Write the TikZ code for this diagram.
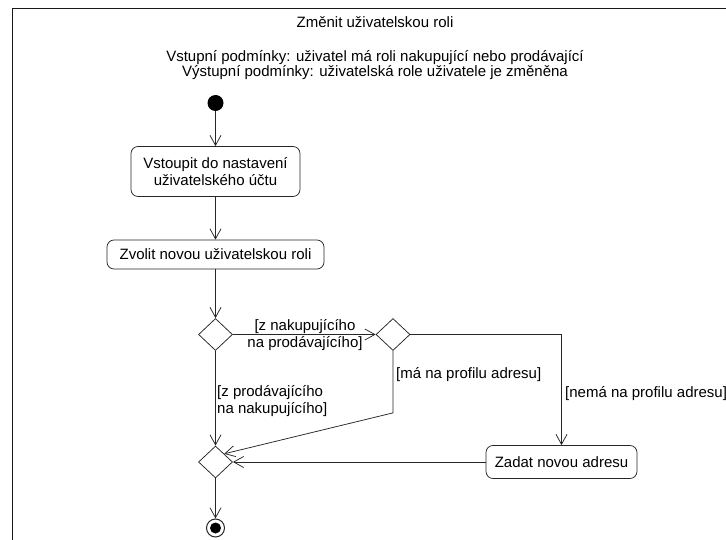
\documentclass[tikz,border=0pt]{standalone}
\usepackage{fontspec}
\setmainfont{Liberation Sans}
\usetikzlibrary{shapes.geometric,arrows.meta}

\begin{document}
\begin{tikzpicture}[x=1pt,y=-1pt,
  every node/.style={font=\fontsize{15}{16.5}\selectfont},
  line/.style={draw=black!85, line width=0.75pt},
  action/.style={line, rounded corners=7pt, align=center, inner sep=0pt},
  decision/.style={line, diamond, minimum width=34pt, minimum height=32pt, inner sep=0pt},
  flow/.style={line, -{Straight Barb[length=10pt,width=11pt,line width=0.75pt]}},
  guard/.style={inner sep=0pt},
]
\useasboundingbox (0,0) rectangle (726,540);

% frame of the activity
\draw[line width=1pt, black!90] (12,560) -- (12,9) -- (740,9);

% heading and conditions
\node[anchor=base] (title) at (375,28) {Změnit uživatelskou roli};
\node[anchor=base] (pre) at (375,62) {Vstupní podmínky: uživatel má roli nakupující nebo prodávající};
\node[anchor=base] (post) at (375,77) {Výstupní podmínky: uživatelská role uživatele je změněna};

% activity nodes
\node[circle, fill=black, minimum size=16pt, inner sep=0pt] (start) at (215.5,103) {};
\node[action, minimum width=169pt, minimum height=50pt] (enter) at (215.5,171.5) {Vstoupit do nastavení\\uživatelského účtu};
\node[action, minimum width=217pt, minimum height=29pt] (choose) at (215.5,254.5) {Zvolit novou uživatelskou roli};
\node[decision] (split) at (215.5,334.5) {};
\node[decision] (addr) at (393,334.5) {};
\node[decision] (merge) at (215.5,462) {};
\node[action, minimum width=151pt, minimum height=33pt] (newaddr) at (561.5,462) {Zadat novou adresu};
\node[circle, line, line width=1pt, minimum size=18pt, inner sep=0pt] (end) at (215.5,528) {};
\fill (end.center) circle (5.5pt);

% guards
\node[guard, align=center] (g1) at (305,335) {[z nakupujícího\\na prodávajícího]};
\node[guard, align=left, anchor=west] (g2) at (217,401) {[z prodávajícího\\na nakupujícího]};
\node[guard, anchor=west] (g3) at (396,375) {[má na profilu adresu]};
\node[guard, anchor=west] (g4) at (565,394) {[nemá na profilu adresu]};

% control flows
\draw[flow] (start) -- (enter);
\draw[flow] (enter) -- (choose);
\draw[flow] (choose) -- (split);
\draw[flow] (split.east) -- (addr.west);
\draw[flow] (split) -- (merge);
\draw[flow] (addr.south) -- ++(0,62) -- (merge.north east);
\draw[flow] (addr.east) -| (newaddr.north);
\draw[flow] (newaddr.west) -- (merge.east);
\draw[flow] (merge) -- (end);
\end{tikzpicture}
\end{document}
